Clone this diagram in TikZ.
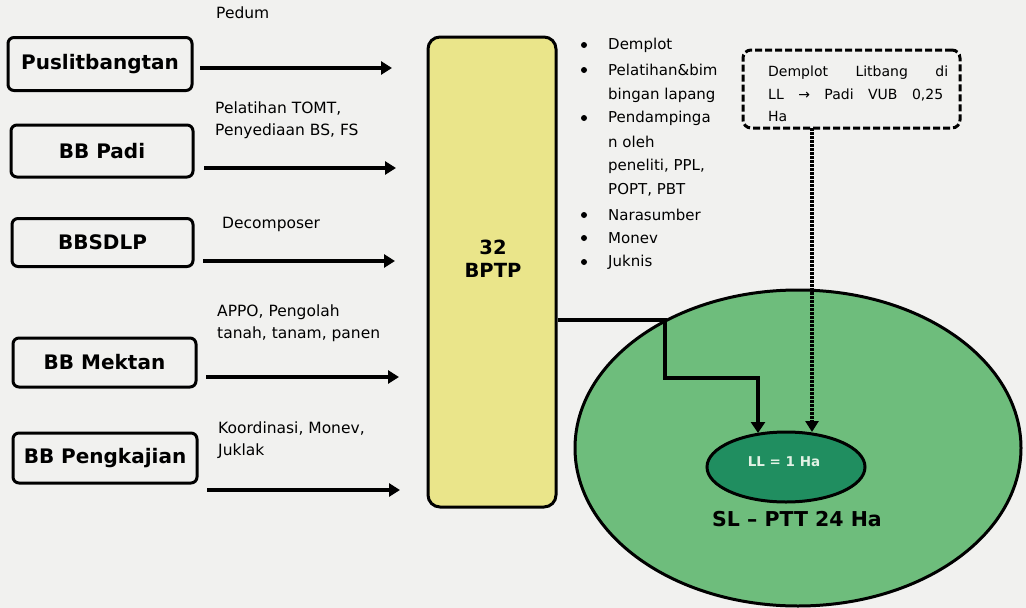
\documentclass[tikz,border=0pt]{standalone}
\usepackage{fontspec}
\setmainfont{DejaVu Sans}
\usetikzlibrary{arrows.meta,shapes.geometric}
\definecolor{bg}{RGB}{241,241,239}
\definecolor{yel}{RGB}{234,229,138}
\definecolor{lgreen}{RGB}{110,189,124}
\definecolor{dgreen}{RGB}{32,142,96}
\tikzset{
  srcbox/.style={draw=black,line width=3pt,rounded corners=6pt,fill=bg,minimum height=50pt,font=\fontsize{20}{22}\selectfont\bfseries,inner sep=1pt},
  flow/.style={line width=4pt,-{Triangle[width=13pt,length=11pt]}},
  lbl/.style={anchor=north west,align=left,font=\fontsize{15.5}{22}\selectfont,inner sep=0pt},
  bul/.style={anchor=west,font=\fontsize{15}{16}\selectfont,inner sep=0pt},
  dot/.style={circle,fill=black,inner sep=0pt,minimum size=6pt},
  dtext/.style={anchor=west,inner sep=0pt,font=\fontsize{14}{15}\selectfont}
}
\begin{document}
\begin{tikzpicture}[x=1pt,y=-1pt]
\fill[bg] (0,0) rectangle (1026,608);
\useasboundingbox (0,0) rectangle (1026,608);

% source boxes
\node[srcbox,minimum width=184pt,minimum height=53pt] (p1) at (100,64) {Puslitbangtan};
\node[srcbox,minimum width=182pt,minimum height=52pt] (p2) at (102,151) {BB Padi};
\node[srcbox,minimum width=181pt,minimum height=48pt] (p3) at (102.5,242.5) {BBSDLP};
\node[srcbox,minimum width=183pt,minimum height=49pt] (p4) at (104.5,362.5) {BB Mektan};
\node[srcbox,minimum width=184pt,minimum height=50pt] (p5) at (105,458) {BB Pengkajian};

% BPTP box
\node[draw=black,line width=3pt,rounded corners=12pt,fill=yel,minimum width=128pt,minimum height=470pt] (bptp) at (492,272) {};
\node[font=\fontsize{19.5}{23}\selectfont\bfseries,align=center] (bptpt) at (493,259) {32\\BPTP};

% arrows to BPTP
\coordinate (s1) at (200,68);  \coordinate (e1) at (392,68);
\coordinate (s2) at (204,168); \coordinate (e2) at (396,168);
\coordinate (s3) at (203,261); \coordinate (e3) at (395,261);
\coordinate (s4) at (206,377); \coordinate (e4) at (399,377);
\coordinate (s5) at (207,490); \coordinate (e5) at (400,490);
\draw[flow] (s1) -- (e1);
\draw[flow] (s2) -- (e2);
\draw[flow] (s3) -- (e3);
\draw[flow] (s4) -- (e4);
\draw[flow] (s5) -- (e5);

% arrow labels
\node[lbl] (l1) at (216,7) {Pedum};
\node[lbl] (l2) at (215,102) {Pelatihan TOMT,\\Penyediaan BS, FS};
\node[lbl] (l3) at (222,217) {Decomposer};
\node[lbl] (l4) at (217,305) {APPO, Pengolah\\tanah, tanam, panen};
\node[lbl] (l5) at (218,422) {Koordinasi, Monev,\\Juklak};

% bullet list
\foreach \y/\t/\b in {45/Demplot/1, 70/Pelatihan\&bim/1, 95/bingan lapang/0, 118/Pendampinga/1, 142/n oleh/0, 166/{peneliti, PPL,}/0, 190/{POPT, PBT}/0, 215/Narasumber/1, 238/Monev/1, 262/Juknis/1}{
  \node[bul] at (608,\y) {\t};
  \ifnum\b=1 \node[dot] at (584,\y) {};\fi
}

% big ellipse
\node[ellipse,draw=black,line width=3pt,fill=lgreen,minimum width=446pt,minimum height=316pt] (sl) at (798,448) {};
\node[ellipse,draw=black,line width=3pt,fill=dgreen,minimum width=158pt,minimum height=70pt] (ll) at (786,467) {};
\node[font=\fontsize{13.5}{15}\selectfont\bfseries,text=white!80!lgreen] (llt) at (784,462) {LL = 1 Ha};
\node[font=\fontsize{20.5}{24}\selectfont\bfseries] (slt) at (797,519) {SL – PTT 24 Ha};

% dashed box
\node[draw=black,line width=3pt,dash pattern=on 7pt off 3pt,rounded corners=8pt,minimum width=217pt,minimum height=78pt] (demo) at (851.5,89) {};
\node[dtext] (d1) at (768,73) {\makebox[180pt][s]{Demplot Litbang di}};
\node[dtext] (d2) at (768,95) {\makebox[175pt][s]{LL → Padi VUB 0,25}};
\node[dtext] (d3) at (768,116) {Ha};

% connectors to LL
\coordinate (dbot) at (812,128);
\draw[line width=4pt,dash pattern=on 2.5pt off 1.5pt,-{Triangle[width=13pt,length=11pt]}] (dbot) -- (812,432);
\draw[line width=4pt,-{Triangle[width=14pt,length=11pt]}] (bptp.east |- 0,320) -- (665,320) -- (665,378) -- (758,378) -- (758,433);
\end{tikzpicture}
\end{document}
